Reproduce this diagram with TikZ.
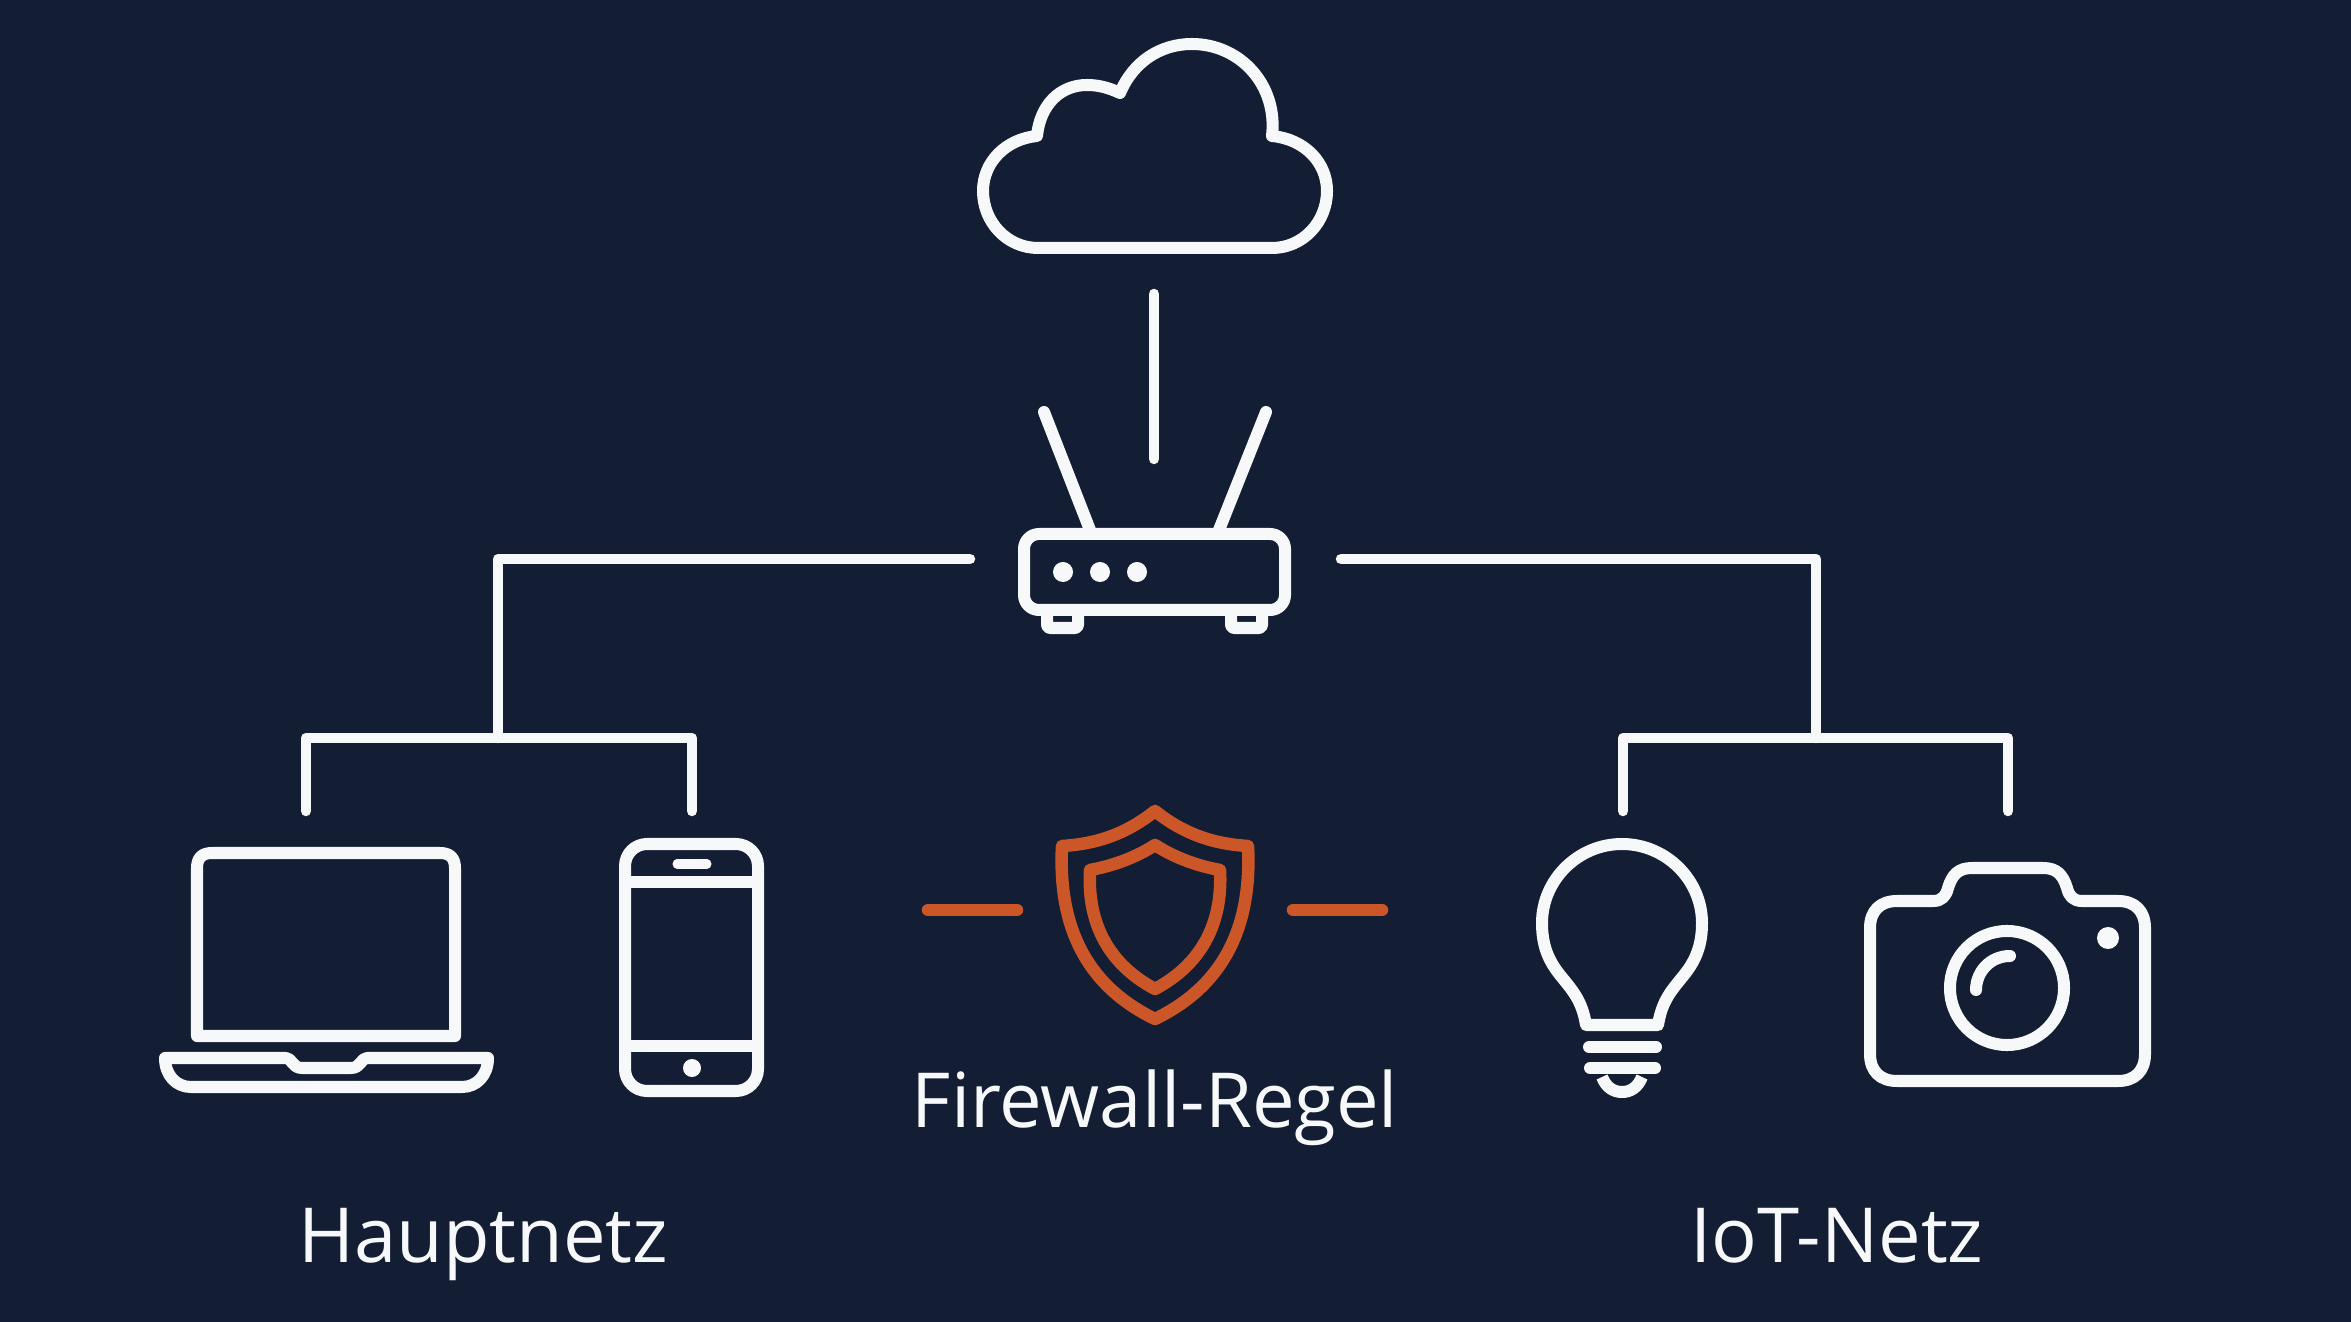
\documentclass[tikz,border=0pt]{standalone}
\usepackage{fontspec}
\setmainfont{Open Sans}
\definecolor{nightbg}{HTML}{131D33}
\definecolor{iconwhite}{HTML}{F7F8FA}
\definecolor{rulered}{HTML}{CB5729}
\tikzset{
	iconline/.style={draw=iconwhite, line width=0.12cm, line cap=round, line join=round},
	wireline/.style={draw=iconwhite, line width=0.105cm, line cap=round, line join=round},
	ruleline/.style={draw=rulered, line width=0.125cm, line cap=round, line join=round},
	labeltext/.style={text=iconwhite, anchor=base, inner sep=0pt, font=\fontsize{21.6}{26}\selectfont}
}
\begin{document}
\begin{tikzpicture}[x=0.01cm,y=-0.01cm]
	\fill [nightbg] (0,0) rectangle (2351,1322);
	% cloud
	\draw [iconline] (1038,248)--(1272,248)
		.. controls (1303,248) and (1327,222) .. (1327,191)
		.. controls (1327,162) and (1304,139) .. (1272,136)
		.. controls (1278,85) and (1240,44) .. (1192,44)
		.. controls (1160,44) and (1133,62) .. (1120,93)
		.. controls (1107,87) and (1097,85) .. (1087,85)
		.. controls (1060,85) and (1040,105) .. (1037,136)
		.. controls (1006,139) and (983,162) .. (983,191)
		.. controls (983,222) and (1007,248) .. (1038,248)--cycle;
	% router
	\draw [iconline] (1044,412)--(1090,530);
	\draw [iconline] (1266,412)--(1219,530);
	\draw [iconline, rounded corners=0.15cm] (1024,534) rectangle (1285,610);
	\foreach \dotx in {1063,1100,1137}
		\fill [iconwhite] (\dotx,572) circle [radius=0.1cm];
	\draw [iconline, rounded corners=0.03cm] (1047,612)--(1047,628)--(1078,628)--(1078,612);
	\draw [iconline, rounded corners=0.03cm] (1231,612)--(1231,628)--(1262,628)--(1262,612);
	% laptop
	\draw [iconline] (197,1036)--(197,868)
		.. controls (197,858) and (202,853) .. (212,853)--(440,853)
		.. controls (450,853) and (455,858) .. (455,868)--(455,1036)--cycle;
	\draw [iconline] (165,1058)--(286,1058)
		.. controls (292,1058) and (292,1068) .. (302,1068)--(351,1068)
		.. controls (361,1068) and (361,1058) .. (367,1058)--(488,1058)
		.. controls (488,1075) and (477,1087) .. (462,1087)--(191,1087)
		.. controls (176,1087) and (165,1075) .. (165,1058)--cycle;
	% phone
	\draw [iconline, rounded corners=0.22cm] (625,844) rectangle (758,1091);
	\draw [iconline] (625,882)--(758,882);
	\draw [iconline] (625,1046)--(758,1046);
	\draw [iconline, line width=0.09cm] (677,864)--(707,864);
	\fill [iconwhite] (692,1068) circle [radius=0.09cm];
	% shield
	\draw [ruleline] (1155,811)
		.. controls (1125,835) and (1095,844) .. (1062,846)
		.. controls (1058,925) and (1085,985) .. (1155,1019)
		.. controls (1225,985) and (1252,925) .. (1248,846)
		.. controls (1215,844) and (1185,835) .. (1155,811)--cycle;
	\draw [ruleline] (1155,845)
		.. controls (1135,858) and (1112,866) .. (1090,870)
		.. controls (1087,925) and (1110,965) .. (1155,989)
		.. controls (1200,965) and (1223,925) .. (1220,870)
		.. controls (1198,866) and (1175,858) .. (1155,845)--cycle;
	% bulb
	\draw [iconline] (1586,1025)
		.. controls (1582,1000) and (1572,990) .. (1560,975)
		.. controls (1548,960) and (1542,945) .. (1542,923)
		.. controls (1542,880) and (1578,844) .. (1622,844)
		.. controls (1666,844) and (1702,880) .. (1702,923)
		.. controls (1702,945) and (1696,960) .. (1684,975)
		.. controls (1672,990) and (1662,1000) .. (1658,1025)--cycle;
	\draw [iconline] (1589,1047)--(1656,1047);
	\draw [iconline] (1590,1068)--(1655,1068);
	\draw [iconline, line cap=butt] (1602,1077)
		.. controls (1606,1087) and (1613,1092) .. (1622,1092)
		.. controls (1631,1092) and (1638,1087) .. (1642,1077);
	% camera
	\draw [iconline] (1897,901)--(1933,901)
		.. controls (1942,901) and (1946,896) .. (1948,888)
		.. controls (1952,875) and (1958,868) .. (1972,868)--(2043,868)
		.. controls (2057,868) and (2063,875) .. (2067,888)
		.. controls (2069,896) and (2073,901) .. (2082,901)--(2118,901)
		.. controls (2135,901) and (2145,911) .. (2145,928)--(2145,1054)
		.. controls (2145,1071) and (2135,1081) .. (2118,1081)--(1897,1081)
		.. controls (1880,1081) and (1870,1071) .. (1870,1054)--(1870,928)
		.. controls (1870,911) and (1880,901) .. (1897,901)--cycle;
	\draw [iconline] (2007,988) circle [radius=0.57cm];
	\draw [iconline] (1976,990) .. controls (1976,972) and (1990,956) .. (2010,956);
	\fill [iconwhite] (2108,938) circle [radius=0.11cm];
	% wires
	\coordinate (cloudfoot) at (1154,294);
	\coordinate (routerhead) at (1154,459);
	\coordinate (routerwest) at (970,559);
	\coordinate (routereast) at (1341,559);
	\coordinate (mainbus) at (498,738);
	\coordinate (iotbus) at (1816,738);
	\coordinate (laptophead) at (306,811);
	\coordinate (phonehead) at (692,811);
	\coordinate (bulbhead) at (1623,811);
	\coordinate (camerahead) at (2008,811);
	\coordinate (ruleleftA) at (928,910);
	\coordinate (ruleleftB) at (1017,910);
	\coordinate (rulerightA) at (1293,910);
	\coordinate (rulerightB) at (1382,910);
	\draw [wireline] (cloudfoot)--(routerhead);
	\draw [wireline] (routerwest) -| (mainbus);
	\draw [wireline] (routereast) -| (iotbus);
	\draw [wireline] (laptophead) |- (mainbus) -| (phonehead);
	\draw [wireline] (bulbhead) |- (iotbus) -| (camerahead);
	\draw [ruleline] (ruleleftA)--(ruleleftB);
	\draw [ruleline] (rulerightA)--(rulerightB);
	% labels
	\node [labeltext] (firewalllabel) at (1155,1127) {Firewall-Regel};
	\node [labeltext] (mainlabel) at (483,1262) {Hauptnetz};
	\node [labeltext] (iotlabel) at (1837,1262) {IoT-Netz};
\end{tikzpicture}
\end{document}
